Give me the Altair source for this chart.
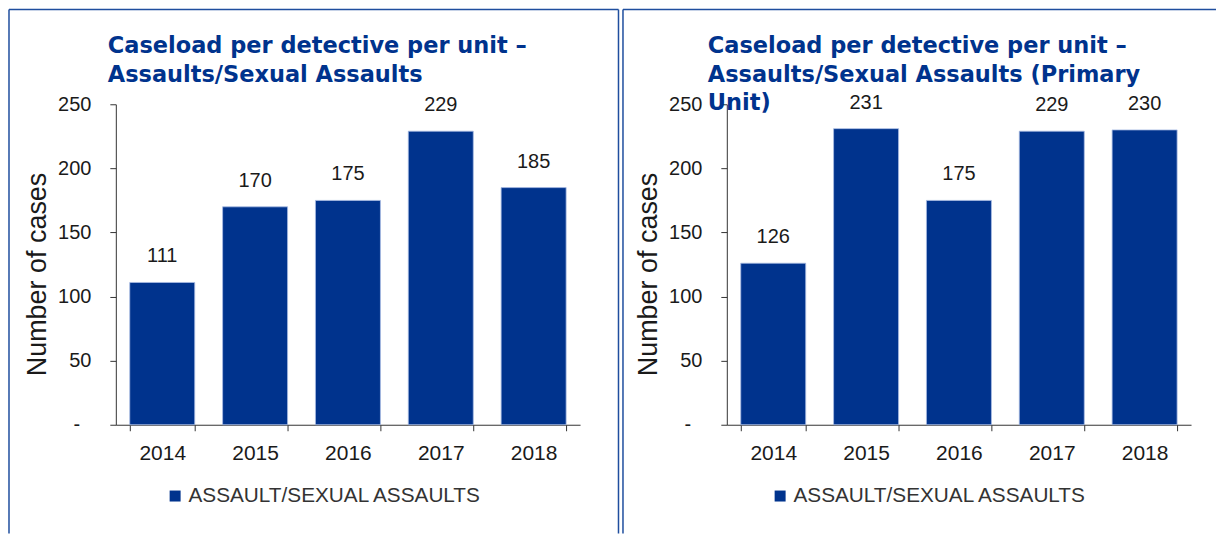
import altair as alt
import pandas as pd

years = ["2014", "2015", "2016", "2017", "2018"]
left_values = [111, 170, 175, 229, 185]
right_values = [126, 231, 175, 229, 230]
series_name = "ASSAULT/SEXUAL ASSAULTS"
left_title = ["Caseload per detective per unit –", "Assaults/Sexual Assaults"]
right_title = ["Caseload per detective per unit –", "Assaults/Sexual Assaults (Primary", "Unit)"]
y_ticks = [0, 50, 100, 150, 200, 250]
y_axis_title = "Number of cases"

BAR = "#00338D"
FRAME = "#1F4E9E"
TXT = "#1a1a1a"
W, H = 465, 321
FONT = "Liberation Sans"


def panel(values, title_lines, title_x, frame_left, frame_right, top_right, legend_x):
    df = pd.DataFrame({"year": years, "cases": values, "series": series_name})
    base = alt.Chart(df)
    bars = base.mark_bar(stroke="#A9BCE3", strokeWidth=0.8).encode(
        x=alt.X(
            "year:N",
            title=None,
            scale=alt.Scale(paddingInner=0.3, paddingOuter=0.15),
            axis=alt.Axis(
                labelAngle=0, tickBand="extent", tickSize=6, labelPadding=12,
                labelFontSize=21, labelFont=FONT, labelColor=TXT,
                domainColor="#333333", tickColor="#333333",
            ),
        ),
        y=alt.Y(
            "cases:Q",
            scale=alt.Scale(domain=[0, 250], nice=False),
            axis=alt.Axis(
                values=y_ticks, title=y_axis_title, grid=False,
                labelExpr="datum.value == 0 ? '-\u2007\u200b' : datum.label",
                tickSize=6, labelPadding=19,
                labelFontSize=20, labelFont=FONT,
                labelColor=TXT, domainColor="#333333", tickColor="#333333",
                titleFont=FONT, titleFontSize=27, titleFontWeight="normal",
                titleColor=TXT, titleX=-78, titleY=170, titleBaseline="middle",
            ),
        ),
        color=alt.Color(
            "series:N",
            scale=alt.Scale(range=[BAR]),
            legend=alt.Legend(
                orient="none", legendX=legend_x, legendY=382, title=None,
                symbolType="square", symbolSize=121, symbolStrokeWidth=0,
                labelFont=FONT, labelFontSize=20.8, labelColor="#333333",
                labelOffset=3, labelLimit=0, padding=0,
            ),
        ),
    )
    labels = base.mark_text(
        baseline="bottom", dy=-16, fontSize=20, font=FONT, color=TXT
    ).encode(x="year:N", y="cases:Q", text="cases:Q")

    one = pd.DataFrame({"k": [0]})
    title = alt.Chart(one).mark_text(
        text=title_lines, align="left", baseline="alphabetic",
        font="DejaVu Sans", fontWeight="bold", fontSize=22.5,
        lineHeight=28.3, color=BAR,
    ).encode(x=alt.value(title_x), y=alt.value(-51))

    frames = []
    frames.append(alt.Chart(one).mark_rule(color=FRAME, strokeWidth=1.5).encode(
        x=alt.value(frame_left), y=alt.value(-95), y2=alt.value(430)))
    frames.append(alt.Chart(one).mark_rule(color=FRAME, strokeWidth=1.5).encode(
        x=alt.value(frame_left), x2=alt.value(top_right), y=alt.value(-95)))
    if frame_right is not None:
        frames.append(alt.Chart(one).mark_rule(color=FRAME, strokeWidth=1.5).encode(
            x=alt.value(frame_right), y=alt.value(-95), y2=alt.value(430)))

    return alt.layer(*frames, bars, labels, title).properties(width=W, height=H)


left = panel(left_values, left_title, -8, -107, 503.5, 503.5, 49)
right = panel(right_values, right_title, -19, -104, None, 490, 43)

chart = (
    alt.hconcat(left, right, spacing=2)
    .resolve_scale(color="independent")
    .resolve_legend(color="independent")
    .properties(padding=0, background="white")
    .configure_view(strokeWidth=0)
)

chart.save("out.html", embed_options={"renderer": "svg", "actions": False})
